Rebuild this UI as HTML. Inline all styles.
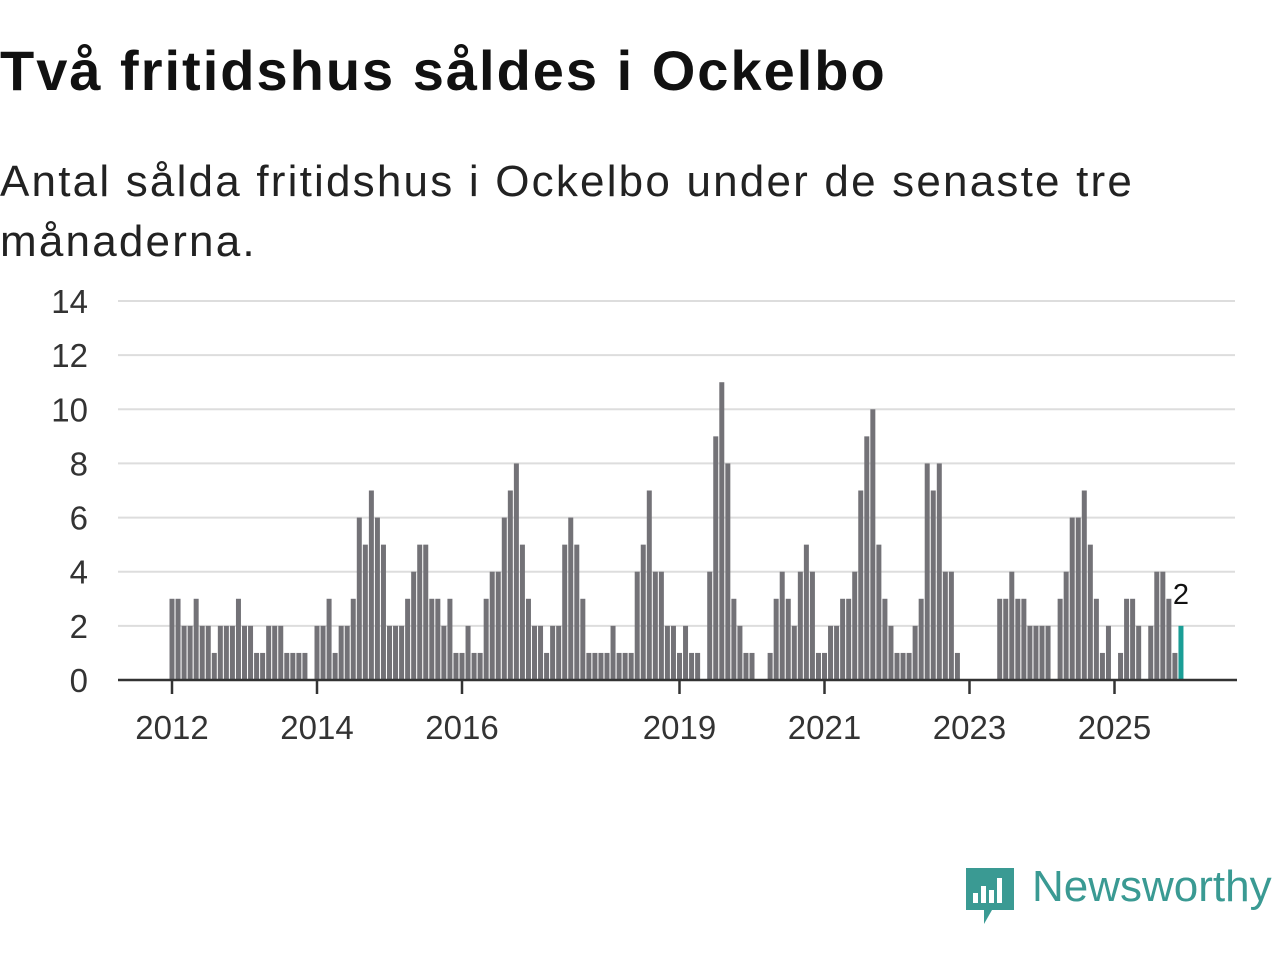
<!DOCTYPE html>
<html><head><meta charset="utf-8"><style>
body{margin:0;width:1280px;height:960px;background:#fff;font-family:"Liberation Sans",sans-serif;overflow:hidden;position:relative}
h1{position:absolute;left:0;top:38px;margin:0;font-size:56px;font-weight:bold;color:#111;letter-spacing:2px;white-space:nowrap}
.sub{position:absolute;left:0;top:152px;margin:0;font-size:44px;line-height:60px;color:#222;width:1180px;letter-spacing:2.2px}
svg{position:absolute;left:0;top:0}
.logo{position:absolute;left:1032px;top:862px;font-size:44px;color:#3a9a93}
</style></head><body>
<h1>Två fritidshus såldes i Ockelbo</h1>
<p class="sub">Antal sålda fritidshus i Ockelbo under de senaste tre månaderna.</p>
<svg id="chart" width="1280" height="960"></svg>
<svg width="1280" height="960" style="pointer-events:none">
<path d="M966 868h48v42h-22l-8 14v-14h-18z" fill="#3a9a93"/>
<rect x="973" y="893" width="5" height="10" fill="#fff"/><rect x="981" y="886" width="5" height="17" fill="#fff"/><rect x="989" y="890" width="5" height="13" fill="#fff"/><rect x="997" y="878" width="5" height="25" fill="#fff"/>
</svg>
<div class="logo">Newsworthy</div>
<script>
const yTicks=[0,2,4,6,8,10,12,14];
const xTickYears=[2012,2014,2016,2019,2021,2023,2025];
const startYear=2012;
const values=[3,3,2,2,3,2,2,1,2,2,2,3,
2,2,1,1,2,2,2,1,1,1,1,0,
2,2,3,1,2,2,3,6,5,7,6,5,
2,2,2,3,4,5,5,3,3,2,3,1,
1,2,1,1,3,4,4,6,7,8,5,3,
2,2,1,2,2,5,6,5,3,1,1,1,
1,2,1,1,1,4,5,7,4,4,2,2,
1,2,1,1,0,4,9,11,8,3,2,1,
1,0,0,1,3,4,3,2,4,5,4,1,
1,2,2,3,3,4,7,9,10,5,3,2,
1,1,1,2,3,8,7,8,4,4,1,0,
0,0,0,0,0,3,3,4,3,3,2,2,
2,2,0,3,4,6,6,7,5,3,1,2,
0,1,3,3,2,0,2,4,4,3,1,2];
const lastLabel="2";
const NS="http://www.w3.org/2000/svg";
const svg=document.getElementById('chart');
const x0=172,pitch=72.5/12,yBase=680,yUnit=(680-301)/14;
const xs=i=>x0+i*pitch;
const ys=v=>yBase-v*yUnit;
function mk(t,a){const e=document.createElementNS(NS,t);for(const k in a)e.setAttribute(k,a[k]);svg.appendChild(e);return e;}
yTicks.forEach(v=>{
 if(v>0){const g=mk('line',{x1:118,x2:1235,y1:ys(v),y2:ys(v),stroke:'#ddd','stroke-width':2});
 
 }
 const t=mk('text',{x:88,y:ys(v)+12,'text-anchor':'end','font-size':33,fill:'#333'});t.textContent=v;
 
 
});
values.forEach((v,i)=>{
 const last=i===values.length-1;
 const r=mk('rect',{x:xs(i)-2.5,y:ys(v),width:5,height:v*yUnit,fill:last?'#1a9e96':'#737277'});
 
 
});
const ax=mk('line',{x1:118,x2:1237,y1:yBase,y2:yBase,stroke:'#333','stroke-width':2.5});


xTickYears.forEach(yr=>{
 const x=xs((yr-startYear)*12);
 const l=mk('line',{x1:x,x2:x,y1:yBase,y2:yBase+14,stroke:'#333','stroke-width':2.5});
 
 
 const t=mk('text',{x:x,y:739,'text-anchor':'middle','font-size':33,fill:'#333'});t.textContent=yr;
 
 
});
const li=values.length-1;
const lb=mk('text',{x:xs(li),y:ys(values[li])-22,'text-anchor':'middle','font-size':29,fill:'#111',stroke:'#fff','stroke-width':4,'paint-order':'stroke'});
lb.textContent=lastLabel;


</script>
</body></html>
